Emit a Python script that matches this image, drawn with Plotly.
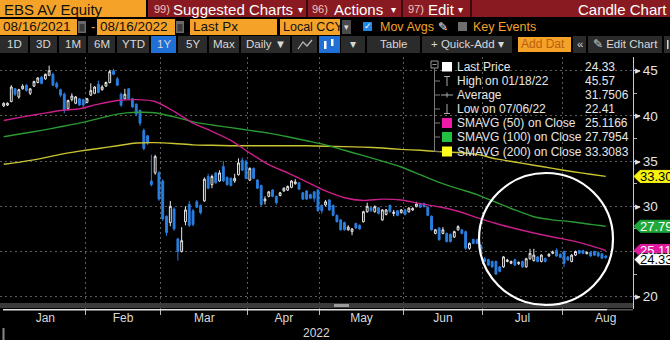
import numpy as np
import pandas as pd
import plotly.graph_objects as go

# ---------------- data ----------------
# Vienna trading days shown on the chart
holidays = ["2021-12-31", "2022-04-15", "2022-04-18", "2022-06-06"]
dates = pd.bdate_range("2021-12-30", "2022-08-16", freq="C", holidays=holidays)

open_px = [
    41.1, 41.2, 41.6, 43.0, 42.1, 43.0, 43.4, 42.5, 43.3, 43.7,
    44.3, 44.1, 44.5, 44.6, 43.6, 42.9, 42.4, 40.8, 41.8, 41.4,
    41.9, 41.8, 41.5, 42.3, 42.5, 43.5, 42.9, 43.3, 43.7, 45.0,
    44.1, 42.4, 41.9, 43.0, 41.9, 41.3, 40.6, 38.4, 37.8, 32.8,
    33.7, 33.7, 32.8, 28.9, 28.2, 29.7, 26.4, 25.0, 28.3, 30.2,
    29.5, 30.5, 30.1, 30.6, 33.3, 32.4, 33.7, 32.8, 34.4, 33.2,
    33.1, 32.8, 33.5, 35.1, 35.0, 32.9, 34.2, 32.9, 32.3, 30.6,
    31.1, 31.8, 31.1, 31.2, 31.7, 31.8, 32.1, 32.5, 32.6, 31.5,
    31.7, 31.3, 31.6, 31.8, 30.1, 30.15, 30.7, 30.1, 29.0, 28.5,
    28.2, 27.4, 27.2, 28.1, 27.9, 28.3, 29.4, 29.85, 29.4, 29.85,
    28.5, 29.1, 30.1, 29.2, 29.5, 29.3, 29.6, 29.4, 29.6, 29.96,
    30.3, 30.3, 29.9, 28.9, 27.0, 27.6, 27.0, 27.0, 26.9, 26.6,
    27.4, 27.4, 27.2, 25.35, 26.35, 26.3, 25.7, 24.2, 24.1, 23.9,
    23.9, 23.3, 23.3, 23.9, 23.7, 24.1, 23.65, 23.9, 23.3, 24.2,
    24.0, 24.4, 23.9, 24.25, 24.5, 24.8, 25.15, 24.7, 25.0, 24.4,
    23.9, 24.6, 25.1, 25.1, 24.75, 24.9, 25.0, 24.9, 24.75, 24.5,
]
close_px = [
    41.4, 41.4, 43.2, 42.4, 42.9, 43.3, 42.8, 43.0, 43.8, 44.2,
    43.6, 44.6, 45.0, 43.4, 43.2, 42.3, 40.6, 41.7, 42.2, 42.1,
    41.2, 41.2, 41.9, 42.8, 43.2, 42.6, 43.2, 43.7, 44.9, 44.6,
    43.4, 41.2, 42.4, 41.9, 41.0, 40.2, 39.2, 36.4, 37.0, 32.4,
    35.5, 30.8, 28.6, 27.1, 30.0, 27.5, 25.0, 26.2, 29.6, 27.9,
    28.0, 29.9, 29.3, 33.0, 32.0, 33.3, 32.6, 33.7, 32.8, 32.4,
    32.3, 33.1, 34.8, 34.0, 33.1, 34.2, 33.1, 32.0, 30.2, 30.8,
    31.6, 31.1, 30.4, 31.5, 32.0, 32.2, 32.8, 32.7, 31.9, 30.8,
    30.8, 30.9, 30.9, 29.5, 29.5, 30.5, 29.6, 29.0, 28.3, 27.4,
    27.4, 27.7, 27.5, 27.6, 27.5, 29.4, 30.0, 29.5, 29.96, 29.2,
    29.6, 29.6, 29.4, 29.35, 29.0, 29.6, 29.1, 29.8, 29.75, 30.25,
    29.9, 29.96, 29.0, 27.4, 27.4, 26.3, 27.4, 26.1, 26.1, 27.2,
    27.75, 27.0, 25.35, 25.9, 25.9, 25.9, 24.95, 23.9, 23.5, 23.3,
    22.5, 22.8, 24.4, 24.05, 23.9, 23.5, 23.8, 23.3, 24.2, 24.8,
    24.6, 23.9, 24.6, 23.9, 24.7, 24.95, 24.5, 24.35, 23.7, 24.05,
    24.6, 25.0, 24.8, 24.8, 24.9, 24.5, 24.6, 24.5, 24.25, 24.33,
]
high_px = [
    41.5, 41.5, 43.4, 43.1, 43.0, 43.5, 43.5, 43.1, 43.9, 44.3,
    44.4, 44.7, 45.57, 44.8, 43.8, 43.0, 42.6, 41.8, 42.5, 42.2,
    42.0, 41.9, 42.0, 43.6, 43.3, 43.9, 43.4, 43.8, 45.1, 45.2,
    44.3, 42.6, 43.0, 43.1, 42.0, 41.4, 40.7, 38.6, 37.9, 35.7,
    35.7, 33.9, 33.0, 29.0, 30.6, 29.9, 26.5, 27.7, 30.0, 30.6,
    29.7, 30.7, 30.2, 33.2, 33.6, 33.5, 33.8, 34.0, 35.0, 33.3,
    33.2, 33.6, 35.3, 35.4, 35.1, 34.3, 34.3, 33.0, 32.4, 31.1,
    31.7, 31.9, 31.2, 31.6, 32.1, 32.3, 32.9, 33.0, 32.7, 31.6,
    31.8, 31.4, 31.7, 31.9, 30.2, 30.7, 30.8, 30.2, 29.1, 28.6,
    28.3, 27.9, 27.6, 28.2, 28.0, 29.5, 30.4, 29.9, 30.1, 29.9,
    29.7, 29.7, 30.2, 29.6, 29.6, 29.7, 29.7, 29.9, 29.9, 30.5,
    30.4, 30.4, 30.0, 29.0, 27.5, 27.7, 27.7, 27.1, 27.0, 27.3,
    27.9, 27.5, 27.3, 26.0, 26.4, 26.4, 25.8, 24.4, 24.2, 24.0,
    24.0, 23.4, 24.5, 24.2, 24.0, 24.2, 23.9, 24.0, 24.3, 25.3,
    25.3, 24.5, 24.7, 24.3, 24.8, 25.1, 25.35, 24.8, 25.1, 24.5,
    24.7, 25.1, 25.2, 25.2, 25.0, 25.0, 25.1, 25.0, 24.8, 24.6,
]
low_px = [
    41.0, 41.1, 41.5, 42.2, 41.9, 42.9, 42.7, 42.3, 43.2, 43.6,
    43.5, 44.0, 44.4, 43.3, 43.0, 42.1, 40.3, 40.6, 41.6, 41.3,
    41.1, 41.0, 41.4, 42.2, 42.4, 42.5, 42.8, 43.2, 43.6, 44.5,
    43.3, 41.0, 41.8, 41.8, 40.9, 40.0, 38.9, 36.2, 36.8, 32.2,
    33.5, 30.6, 28.4, 26.75, 27.8, 27.3, 24.0, 24.9, 27.9, 27.7,
    27.8, 29.8, 29.1, 30.5, 31.9, 32.0, 32.5, 32.7, 32.7, 32.3,
    32.2, 32.6, 33.4, 33.9, 33.0, 32.8, 33.0, 31.9, 30.0, 30.2,
    31.0, 31.0, 30.2, 31.1, 31.6, 31.7, 32.0, 32.4, 31.8, 30.7,
    30.7, 30.8, 30.5, 29.4, 29.2, 30.0, 29.5, 28.9, 28.2, 27.3,
    27.3, 27.3, 26.8, 27.5, 27.4, 28.2, 29.3, 29.4, 29.3, 29.1,
    28.4, 29.0, 29.3, 28.9, 28.9, 29.2, 29.0, 29.3, 29.5, 29.9,
    29.8, 29.9, 28.9, 27.3, 26.9, 26.2, 26.9, 26.0, 26.0, 26.5,
    27.3, 26.9, 25.2, 25.2, 25.8, 25.8, 24.8, 23.8, 23.4, 23.2,
    22.41, 22.7, 23.2, 23.8, 23.6, 23.4, 23.5, 23.2, 23.2, 24.1,
    23.9, 23.8, 23.8, 23.8, 24.4, 24.7, 24.4, 24.3, 23.3, 24.0,
    23.8, 24.5, 24.7, 24.7, 24.7, 24.4, 24.5, 24.4, 24.2, 24.2,
]

# moving averages, sampled every fifth session (trading-day index)
ma_idx = [0, 5, 10, 15, 20, 25, 30, 35, 40, 45, 50, 55, 60, 65, 70, 75,
          80, 85, 90, 95, 100, 105, 110, 115, 120, 125, 130, 135, 140,
          145, 150, 155, 159]
sma50 = [39.5, 39.9, 40.25, 40.6, 40.8, 41.3, 41.7, 41.8, 41.6, 40.5,
         39.2, 38.3, 37.3, 35.9, 34.6, 33.7, 32.7, 31.7, 30.95, 30.65,
         30.8, 30.7, 30.3, 29.95, 29.45, 28.75, 28.1, 27.55, 27.05, 26.6,
         26.2, 25.65, 25.1166]
sma100 = [37.7, 38.05, 38.4, 38.8, 39.2, 39.7, 40.2, 40.4, 40.35, 39.9,
          39.35, 39.0, 38.7, 38.4, 38.1, 37.7, 37.25, 36.8, 36.2, 35.6,
          35.0, 34.35, 33.5, 32.65, 31.95, 31.3, 30.45, 29.6, 28.85, 28.5,
          28.3, 28.0, 27.7954]
sma200 = [34.65, 34.95, 35.3, 35.75, 36.1, 36.4, 36.7, 37.0, 37.05, 36.95,
          36.8, 36.75, 36.7, 36.7, 36.7, 36.7, 36.7, 36.65, 36.6, 36.55,
          36.45, 36.3, 36.2, 36.05, 35.95, 35.75, 35.25, 34.9, 34.55, 34.2,
          33.85, 33.55, 33.3083]
period_average = 31.7506  # 1Y average of last price

ticker = "EBS AV Equity"
start_label, end_label = "08/16/2021", "08/16/2022"
month_names = ["Jan", "Feb", "Mar", "Apr", "May", "Jun", "Jul", "Aug"]

# ---------------- colours & fonts ----------------
BG = "#000000"
ORANGE = "#f5a228"
RED = "#8a1a22"
BLUE_BTN = "#1f6fd6"
CANDLE_BLUE = "#2a7fe0"
MAGENTA, GREEN, YELLOW = "#c81f88", "#2a9a32", "#c9c431"
SQ_MAGENTA, SQ_GREEN, SQ_YELLOW = "#f01aa8", "#22c040", "#ffff1e"
GRID = "#5c5c5c"
SANS = "Liberation Sans, Arial, sans-serif"

# ---------------- geometry helpers ----------------
W, H = 670, 340
ML, MR, MT, MB = 0, 37, 57, 31
PW, PH = W - ML - MR, H - MT - MB
X_LO, X_HI = -0.98, 166.2
Y_LO, Y_HI = 18.64, 46.52


def xp(px):
    return (px - ML) / PW


def yp(py):
    return (H - MB - py) / PH


shapes, annots = [], []


def rect(x0, y0, x1, y1, color, line=None):
    shapes.append(dict(type="rect", xref="paper", yref="paper",
                       x0=xp(x0), x1=xp(x1), y0=yp(y1), y1=yp(y0),
                       fillcolor=color, line=line or dict(width=0), layer="above"))


def seg(x0, y0, x1, y1, color, width=1):
    shapes.append(dict(type="line", xref="paper", yref="paper",
                       x0=xp(x0), x1=xp(x1), y0=yp(y0), y1=yp(y1),
                       line=dict(color=color, width=width), layer="above"))


def label(x, y, s, size=13, color="#ffffff", anchor="left", family=SANS):
    annots.append(dict(xref="paper", yref="paper", x=xp(x), y=yp(y), text=s,
                       showarrow=False, xanchor=anchor, yanchor="middle",
                       borderpad=0, font=dict(size=size, color=color, family=family)))


# ---------------- traces ----------------
xi = np.arange(len(dates))
fig = go.Figure()
for vals, col in [(sma200, YELLOW), (sma100, GREEN), (sma50, MAGENTA)]:
    fig.add_trace(go.Scatter(x=ma_idx, y=vals, mode="lines", hoverinfo="skip",
                             line=dict(color=col, width=1.4, shape="spline", smoothing=0.6)))
fig.add_trace(go.Candlestick(
    x=xi, open=open_px, high=high_px, low=low_px, close=close_px,
    increasing=dict(line=dict(color="#e8e8e8", width=1), fillcolor=BG),
    decreasing=dict(line=dict(color=CANDLE_BLUE, width=1), fillcolor=CANDLE_BLUE),
    whiskerwidth=0, hoverinfo="skip"))

# month boundaries / centres on the session index
month_of = dates.month
firsts = [int(np.argmax(month_of == m)) for m in range(1, 9)]
lasts = [int(len(month_of) - 1 - np.argmax(month_of[::-1] == m)) for m in range(1, 9)]
aug_sessions = int(np.busday_count("2022-08-01", "2022-09-01"))
lasts[-1] = firsts[-1] + aug_sessions - 1
centres = [(f + l) / 2 for f, l in zip(firsts, lasts)]
bounds = [f - 0.5 for f in firsts[1:]]

# ---------------- toolbar ----------------
# row 1
rect(0, 0, 146, 17, ORANGE)
label(3, 9, ticker, 15, "#111111")
rect(148, 0, 670, 17, RED)
for sx in (306, 401, 470):
    rect(sx, 0, sx + 2, 17, "#3c0a0e")
for num, txt, x0, xt, xa in [("99)", "Suggested Charts", 153, 172, 297),
                             ("96)", "Actions", 311, 333, 390),
                             ("97)", "Edit", 407, 427, 457)]:
    label(x0, 9, num, 11, "#f2c4b8")
    label(xt, 9, txt, 15, "#ffffff")
    label(xa, 9, "▾", 10, "#ffffff")
label(668, 9, "Candle Chart", 15, "#ffffff", anchor="right")

# row 2
for x0, x1, txt, fs in [(0, 77, start_label, 13.5), (97, 175, end_label, 13.5),
                        (190, 277, "Last Px", 13.5), (280, 340, "Local CCY", 12.5)]:
    rect(x0, 19, x1, 35, ORANGE)
    label(x0 + 1.5, 27, txt, fs, "#111111")
for cx in (78, 176):
    rect(cx, 21, cx + 8, 33, "#6a6a6a")
    rect(cx + 1.5, 24, cx + 6.5, 31.5, "#3a3a3a")
label(90, 27, "-", 13, "#e0a050")
rect(342, 20, 351, 34, "#4a4a4a")
label(346.5, 27, "▾", 9, "#dddddd", anchor="center")
rect(363, 22, 372, 31, "#1e88e5")
label(367.5, 26.5, "✓", 9, "#ffffff", anchor="center")
label(379, 27, "Mov Avgs", 12.5, ORANGE)
label(437, 27, "✎", 12, "#ffffff")
rect(458, 22, 467, 31, "#6e6e6e")
label(472, 27, "Key Events", 12.5, ORANGE)

# row 3
BTN = "#2b2b2b"
buttons = [(0, 28, "1D", BTN), (30, 57, "3D", BTN), (59, 86, "1M", BTN), (88, 115, "6M", BTN),
           (117, 149, "YTD", BTN), (151, 176, "1Y", BLUE_BTN), (178, 207, "5Y", BTN),
           (209, 239, "Max", BTN), (241, 290, "Daily ▼", BTN), (292, 317, "", BTN),
           (319, 340, "", BLUE_BTN), (341, 365, "▾", BTN), (367, 420, "Table", BTN),
           (422, 512, "+ Quick-Add ▾", BTN), (573, 586, "«", BTN),
           (588, 662, "✎ Edit Chart", BTN), (664, 670, "", BTN)]
for x0, x1, txt, bg in buttons:
    rect(x0, 36, x1, 53, bg)
    if txt:
        label((x0 + x1) / 2, 44.5, txt, 11.5, "#d8d8d8", anchor="center")
rect(667, 40, 668.5, 49, "#d8d8d8")
rect(518, 37, 571, 52, ORANGE)
label(520, 44.5, "Add Dat", 12, "#b8600c")
# small chart-type icons
shapes.append(dict(type="path", xref="paper", yref="paper", layer="above",
                   path="M {},{} L {},{} L {},{} L {},{}".format(
                       xp(298), yp(49), xp(303), yp(42), xp(307), yp(46), xp(312), yp(40)),
                   line=dict(color="#bbbbbb", width=1.2)))
rect(324, 41, 326.5, 49, "#ffffff")
rect(331, 39, 333.5, 46, "#ffffff")

# ---------------- legend block ----------------
TXT = "#e6e6e6"
rows = [67, 81, 95, 109, 123, 137, 151.5]
shapes.append(dict(type="rect", xref="paper", yref="paper", layer="above",
                   x0=xp(431), x1=xp(438), y0=yp(68), y1=yp(61),
                   line=dict(color="#9a9a9a", width=1), fillcolor=BG))
seg(432.5, 64.5, 436.5, 64.5, "#9a9a9a")
seg(434.5, 68, 434.5, rows[-1], "#7a7a7a")
for ry in rows[1:]:
    seg(434.5, ry, 440, ry, "#7a7a7a")
rect(442, 62, 452, 71.5, "#ffffff")
seg(444, 76.5, 450, 76.5, "#aaaaaa")
seg(447, 76.5, 447, 86, "#aaaaaa")
seg(441, 95, 453, 95, "#aaaaaa")
seg(447, 92.5, 447, 97.5, "#aaaaaa")
seg(447, 104, 447, 113.5, "#aaaaaa")
seg(444, 113.5, 450, 113.5, "#aaaaaa")
rect(442, 118, 452, 128, SQ_MAGENTA)
rect(442, 132, 452, 142, SQ_GREEN)
rect(442, 146.5, 452, 156.5, SQ_YELLOW)

i_hi = int(np.argmax(high_px))
i_lo = int(np.argmin(low_px))
legend_rows = [
    ("Last Price", None, f"{close_px[-1]:.2f}"),
    (f"High on {dates[i_hi]:%m/%d/%y}", None, f"{high_px[i_hi]:.2f}"),
    ("Average", None, f"{period_average:.4f}"),
    (f"Low on {dates[i_lo]:%m/%d/%y}", None, f"{low_px[i_lo]:.2f}"),
    ("SMAVG (50)", 526.5, f"{sma50[-1]:.4f}"),
    ("SMAVG (100)", 533, f"{sma100[-1]:.4f}"),
    ("SMAVG (200)", 533, f"{sma200[-1]:.4f}"),
]
for (name, oc_x, val), ry in zip(legend_rows, rows):
    label(455.5, ry, name, 12, TXT)
    if oc_x:
        label(oc_x, ry, "on Close", 12, TXT)
    label(584, ry, val, 12, TXT)

# ---------------- right-hand value tags ----------------
def tag(value, text, fill, fg, dy=0, border=None):
    path = "M 1,{a} L 7,{b} L 48,{b} L 48,{c} L 7,{c} Z".format(a=dy, b=dy + 6, c=dy - 6)
    shapes.append(dict(type="path", xref="paper", yref="y", xsizemode="pixel",
                       ysizemode="pixel", xanchor=1, yanchor=value, path=path,
                       fillcolor=fill, line=dict(color=border or fill, width=1), layer="above"))
    annots.append(dict(xref="paper", yref="y", x=1, y=value, xanchor="left",
                       yanchor="middle", xshift=6, yshift=dy, text=text, showarrow=False,
                       borderpad=0, font=dict(size=13, color=fg, family=SANS)))


tag(sma200[-1], f"{sma200[-1]:.3f}", "#f7f20f", "#000000")
tag(sma100[-1], f"{sma100[-1]:.3f}", "#1fa83b", "#ffffff")
tag(sma50[-1], f"{sma50[-1]:.3f}", "#e0189c", "#ffffff")
tag(close_px[-1], f"{close_px[-1]:.2f}", "#ffffff", "#000000", dy=-2, border="#222222")

# arrow heads on the price axis ticks
for v in (20, 30, 35, 40, 45):
    annots.append(dict(xref="paper", yref="y", x=1, y=v, xanchor="left", yanchor="middle",
                       xshift=1, text="▶", showarrow=False, borderpad=0,
                       font=dict(size=7, color="#e0e0e0", family=SANS)))

# ---------------- bottom scroller & year ----------------
rect(0, 303, 633, 308, "#3a3a3a")
rect(334, 304, 349, 307, "#9a9a9a")
rect(3, 309, 607, 310.5, "#e4e4e4")
rect(607, 309, 633, 310.5, "#555555")
rect(2.5, 328, 4.5, 340, "#888888")
label(316, 333, "2022", 12, "#d8d8d8", anchor="center")

# highlight ellipse around the summer lows
shapes.append(dict(type="circle", xref="paper", yref="paper", layer="above",
                   x0=xp(479), x1=xp(613), y0=yp(305), y1=yp(173),
                   line=dict(color="#ffffff", width=2.2)))

fig.update_layout(
    width=W, height=H, margin=dict(l=ML, r=MR, t=MT, b=MB),
    paper_bgcolor=BG, plot_bgcolor=BG, showlegend=False, hovermode=False,
    shapes=shapes, annotations=annots,
    xaxis=dict(range=[X_LO, X_HI], tickmode="array", tickvals=centres, ticktext=month_names,
               ticks="", showgrid=False, zeroline=False, showline=False,
               tickfont=dict(size=12, color="#d8d8d8", family=SANS),
               rangeslider=dict(visible=False), fixedrange=True,
               minor=dict(tickmode="array", tickvals=bounds, showgrid=True, gridcolor=GRID,
                          griddash="2px,3px", gridwidth=1, ticks="outside", ticklen=5,
                          tickcolor="#bbbbbb")),
    yaxis=dict(side="right", range=[Y_LO, Y_HI], tickmode="array",
               tickvals=[20, 25, 30, 35, 40, 45], showgrid=True, gridcolor=GRID,
               griddash="2px,3px", gridwidth=1, ticks="outside", ticklen=6,
               tickcolor="#cccccc", zeroline=False, showline=True, linecolor="#cccccc",
               tickfont=dict(size=13.5, color="#e4e4e4", family=SANS), fixedrange=True,
               minor=dict(dtick=2.5, ticks="outside", ticklen=3, tickcolor="#aaaaaa",
                          showgrid=False)),
)

fig.write_html("out.html")
